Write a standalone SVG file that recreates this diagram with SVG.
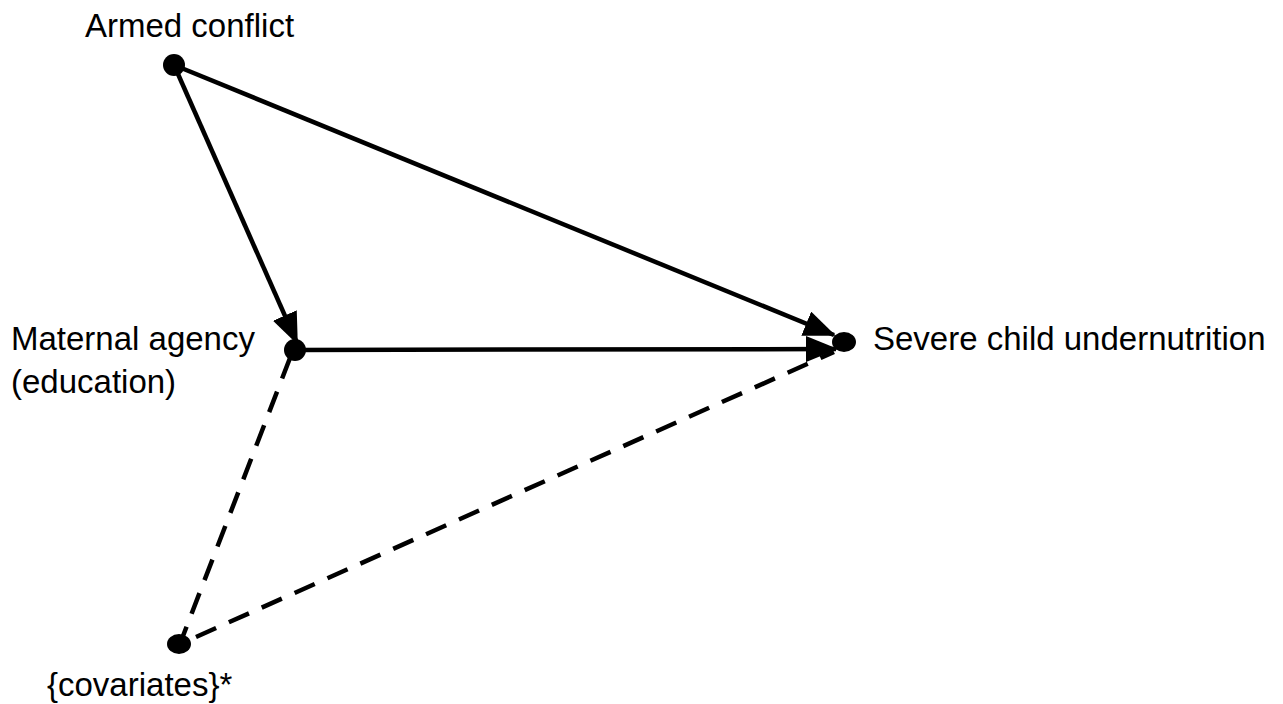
<svg xmlns="http://www.w3.org/2000/svg" width="1283" height="704" viewBox="0 0 1283 704">
<style>
text{font-family:"Liberation Sans",Arial,sans-serif;font-size:33px;fill:#000}
.e{stroke:#000;stroke-width:4.5;fill:none}
.d{stroke-dasharray:22 14}
</style>
<defs>
<marker id="ah" markerWidth="32" markerHeight="26" refX="30" refY="13" orient="auto" markerUnits="userSpaceOnUse">
<path d="M0,0 L32,13 L0,26 Z" fill="#000"/>
</marker>
</defs>
<rect width="1283" height="704" fill="#fff"/>
<g id="connectors">
<line class="e" x1="174" y1="65" x2="297" y2="343" marker-end="url(#ah)"/>
<line class="e" x1="174" y1="65" x2="834" y2="335" marker-end="url(#ah)"/>
<line class="e" x1="295" y1="350" x2="836" y2="349" marker-end="url(#ah)"/>
<line class="e d" x1="290" y1="358" x2="183" y2="636"/>
<line class="e d" x1="196" y1="637" x2="834" y2="352"/>
</g>
<g id="armed">
<circle cx="174" cy="65" r="11"/>
<text x="85" y="37">Armed conflict</text>
</g>
<g id="maternal">
<circle cx="295" cy="350" r="11"/>
<text x="11" y="350">Maternal agency</text>
<text x="11" y="393">(education)</text>
</g>
<g id="severe">
<ellipse cx="844" cy="342" rx="12" ry="10"/>
<text x="873" y="350">Severe child undernutrition</text>
</g>
<g id="covariates">
<ellipse cx="179" cy="644" rx="12" ry="10"/>
<text x="47" y="696">{covariates}*</text>
</g>
</svg>
